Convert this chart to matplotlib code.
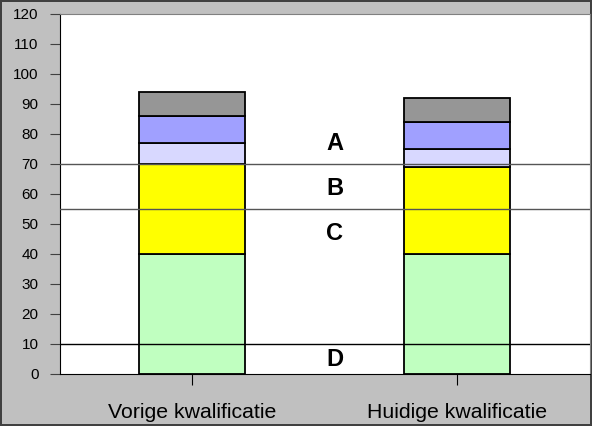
import numpy as np
import matplotlib.pyplot as plt

plt.rcParams['font.family'] = ['Liberation Sans', 'DejaVu Sans']

categories = ["Vorige kwalificatie", "Huidige kwalificatie"]
# stacked segments, bottom to top
seg_green = [40, 40]
seg_yellow = [30, 29]
seg_lavender = [7, 6]
seg_blue = [9, 9]
seg_gray = [8, 8]
seg_colors = ["#c0ffc0", "#ffff00", "#d8d8ff", "#a0a0ff", "#969696"]

# boundary lines and zone labels
lines = [10, 55, 70]
line_colors = ["#000000", "#555555", "#555555"]
zone_labels = ["A", "B", "C", "D"]
zone_y = [76.8, 61.8, 46.8, 4.8]

fig = plt.figure(figsize=(5.92, 4.26), dpi=100)
fig.patch.set_facecolor("#c0c0c0")
fig.patch.set_edgecolor("#404040")
fig.patch.set_linewidth(1.5)
ax = fig.add_axes([59.5 / 592, 1 - 373.5 / 426, 530.5 / 592, 360 / 426])
ax.set_facecolor("white")

x = np.arange(len(categories))
bottom = np.zeros(len(categories))
for vals, c in zip([seg_green, seg_yellow, seg_lavender, seg_blue, seg_gray], seg_colors):
    ax.bar(x, vals, 0.4, bottom=bottom, color=c, edgecolor="black", linewidth=1.3, zorder=2)
    bottom += vals

for yv, lc in zip(lines, line_colors):
    ax.axhline(yv, color=lc, linewidth=1, zorder=3)

for lab, yv in zip(zone_labels, zone_y):
    ax.text(0.537, yv, lab, ha="center", va="center", fontsize=17, fontweight="bold", zorder=4)

ax.set_xlim(-0.5, 1.5)
ax.set_ylim(0, 120)
ax.set_yticks(np.arange(0, 121, 10))
ax.set_xticks(x)
ax.set_xticklabels(categories, fontsize=15.3)
ax.tick_params(axis="y", direction="out", length=7.2, labelsize=11, pad=8, color="#404040")
ax.tick_params(axis="x", direction="out", length=8, pad=13)

for s in ["top", "right"]:
    ax.spines[s].set_color("#808080")
for s in ["left", "bottom"]:
    ax.spines[s].set_color("black")

fig.savefig("out.png", dpi=100, facecolor=fig.get_facecolor(), edgecolor=fig.get_edgecolor())
